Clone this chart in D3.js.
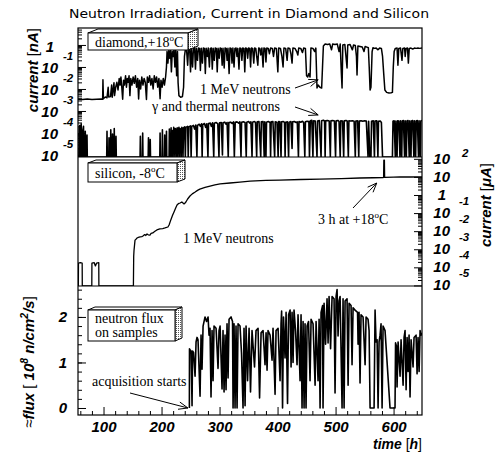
<!DOCTYPE html>
<html>
<head>
<meta charset="utf-8">
<script src="https://cdn.jsdelivr.net/npm/d3@7"></script>
<style>
  body { margin: 0; background: #fff; }
  text { fill: #000; }
</style>
</head>
<body>
<svg id="chart" width="499" height="452"></svg>
<script>
// ---- data ----
const timeTicks = [100, 200, 300, 400, 500, 600];
const diamondDecades = [0, -1, -2, -3, -4, -5];
const siliconDecades = [2, 1, 0, -1, -2, -3, -4, -5];
const fluxTicks = [0, 1, 2];

// diamond current, 1 MeV neutrons [nA]
const diamond = [
  [56,3.4e-3],[64,3.3e-3],[72,3.5e-3],[80,3.3e-3],[88,3.4e-3],[96,3.5e-3],[98.5,3.4e-3],[99,0.026],[99.8,3.6e-3],
  [103,4.3e-3],[106,4.0e-3],[108,0.012],[109,4.3e-3],[112,4.5e-3],[114,0.015],[115,4.2e-3],[118,0.019],[119,5e-3],
  [121,0.012],[123,0.02],[125,0.009],[127,0.03],[128.5,0.015],[130,0.035],[131.5,0.012],[133,3.4e-3],[134.5,0.025],
  [136,0.015],[138,0.04],[139.5,0.012],[141,0.03],[142.5,0.02],[144,0.04],[145.5,5e-3],[147,0.03],[149,0.015],
  [151,0.035],[153,0.018],[155,0.04],[157,0.012],[159,0.03],[160.5,3.5e-3],[162,0.025],[164,0.01],[166,0.035],
  [168,0.015],[170,0.03],[172,0.02],[174,3.3e-3],[175.5,0.035],[177.5,0.02],[179.5,0.04],[181.5,0.015],[183.5,0.03],
  [185.5,0.01],[187.5,0.04],[189.5,0.02],[191.5,0.035],[193.5,0.012],[195.5,0.03],[197.5,3.6e-3],[199,0.025],
  [201,0.012],[203,0.03],[205,0.015],[207,0.035],
  [208.5,0.1],[209.5,0.5],[211,0.15],[212.5,0.55],[214,0.25],[215.5,0.6],[217,0.06],[218.5,0.5],[220,0.3],
  [221.5,0.65],[223,0.1],[224.5,0.6],[226,0.04],[227.5,0.5],[228.5,0.02],[230,5e-3],[233,4.2e-3],[236,4.5e-3],
  [238,0.012],[239.5,0.3],[241,0.6],[243,0.7],[245,0.12],[246.5,0.65],[248.5,0.7],[250,0.06],[251.5,0.7],[253.5,0.1],
  [255,0.7],[257,0.72],[258.5,0.08],[260,0.7],[262,0.2],[263.5,0.72],[265.5,0.7],[267,0.07],[268.5,0.7],[270.5,0.15],
  [272,0.72],[274,0.7],[275.5,0.05],[277,0.7],[279,0.3],[280.5,0.72],[282.5,0.1],[284,0.7],[286,0.72],[287.5,0.08],
  [289,0.7],[291,0.2],[292.5,0.72],[294.5,0.7],[296,0.06],[297.5,0.7],[299.5,0.25],[301,0.72],[303,0.7],[304.5,0.12],
  [306,0.7],[308,0.09],[309.5,0.72],[311.5,0.7],[313,0.2],[314.5,0.7],[316.5,0.05],[318,0.72],[320,0.7],[321.5,0.15],
  [323,0.72],[325,0.1],[326.5,0.7],[328.5,0.72],[330,0.3],[331.5,0.7],[333.5,0.08],[335,0.72],[337,0.7],[338.5,0.2],
  [340,0.72],[342,0.7],[343.5,0.06],[345,0.72],[347,0.7],[348.5,0.25],[350,0.72],[352,0.7],[353.5,0.1],[355,0.72],
  [357,0.7],[359,0.15],[360.5,0.72],[362.5,0.7],[364,0.3],[366,0.12],[367.5,0.72],[369.5,0.7],[371,0.35],[373,0.72],
  [375,0.1],[376.5,0.72],[378.5,0.7],[380,0.17],[381.5,0.72],[384,0.7],[386,0.4],[388,0.72],[391,0.7],[393,0.3],
  [395,0.72],[398,0.7],[400.5,0.06],[402,0.72],[405,0.7],[407.5,0.3],[409.5,0.1],[411,0.72],[414,0.7],[416.5,0.2],
  [418,0.72],[421,0.7],[423,0.4],[425,0.15],[426.5,0.72],[430,0.7],[433,0.5],[435,0.35],[436.5,0.72],[440,0.7],
  [443,0.45],[445,0.72],[448,0.7],[450,0.04],[452,0.035],[454,0.05],[456,0.035],[457.5,0.72],[461,0.7],[464,0.5],
  [466,0.72],[468,0.011],[470,0.015],[473,0.012],[476,0.011],[477.5,0.1],[479,0.9],[482,1.1],[486,1.05],[490,1.1],
  [493,0.6],[495,1.1],[499,1.05],[503,1.1],[506,0.5],[508,1.1],[510,0.05],[511.2,0.011],[512.5,1.0],[516,1.05],
  [519.8,0.09],[521,1.0],[525,1.05],[529,0.6],[531,1.0],[534,0.95],[536,0.3],[537,0.043],[538.5,0.9],[542,0.85],
  [546,0.8],[549,0.5],[551,0.85],[554,0.8],[556.5,0.75],[558,0.1],[559.5,0.009],[561,0.012],[563,0.5],[564.5,0.75],
  [567,0.7],[570,0.72],[573,0.6],[576,0.72],[579,0.7],[581,0.3],[583,0.05],[585,0.009],[588,0.007],[592,0.0066],
  [596,0.0068],[598,0.007],[599.5,0.1],[601,0.5],[603,0.7],[606,0.72],[607.5,0.12],[609,0.7],[612,0.72],[614.5,0.2],
  [616,0.7],[619,0.72],[620,0.3],[621.5,0.7],[624,0.72],[625.5,0.15],[627,0.7],[630,0.72],[633,0.65],[636,0.72],
  [639,0.7],[642,0.72],[645,0.7],[649,0.72]
];

// diamond current, gamma and thermal neutrons [nA]  (1e-6 = below scale)
const gamma = [
  [56,1e-6],[57.5,1e-6],[58,1.7e-4],[59,2.2e-4],[59.5,1e-6],[61,1e-6],[61.5,2.6e-4],[62.5,1e-6],[64,1e-6],[64.5,1.4e-4],
  [65.5,2e-4],[66,1e-6],[68,1e-6],[68.5,1.2e-4],[69.5,1e-6],[71,1e-6],[71.5,8e-5],[72,1e-6],
  [105.5,1e-6],[106,1.2e-4],[106.5,1e-6],[109,1e-6],[109.5,6e-5],[110,1e-6],[112,1e-6],[112.5,1.4e-4],[113,1e-6],
  [115,1e-6],[115.5,9e-5],[116,1e-6],[118,1e-6],[118.5,1.6e-4],[119,1e-6],[121,1e-6],[121.5,7e-5],[122,1e-6],
  [163,1e-6],[163.5,7e-5],[164,1e-6],[167,1e-6],[167.5,1e-4],[168,1e-6],[177,1e-6],[177.5,6e-5],[178,1e-6],
  [180,1e-6],[180.5,5e-5],[181,1e-6],[197,1e-6],[197.5,1e-4],[198,1e-6],[201,1e-6],[201.5,1.4e-4],[202,1e-6],
  [205,1e-6],[205.5,8e-5],[206,1e-6],[208,1e-6],[208.5,1.2e-4],[209,1e-6],
  [213,1e-6],[213.5,1.5e-4],[214.5,1e-6],[216,1e-6],[216.5,1.7e-4],[217.5,1e-6],[219,1.3e-4],[220,1e-6],[221,1.8e-4],
  [222,1.4e-4],[223,1e-6],[224,1.6e-4],[225.5,1.2e-4],[226,1e-6],[227,1.7e-4],[228,1e-6],[229,1.4e-4],[230,1.8e-4],
  [231,1e-6],[232,1.6e-4],[233.5,1.4e-4],[234,1e-6],[235,1.8e-4],[236.5,1.5e-4],[237,1e-6],[238,1.7e-4],[240,1.9e-4],
  [241,1e-6],[242,1.8e-4],[245,2e-4],[246,1e-6],[247,1.9e-4],[250,2.1e-4],[251,1e-6],[252,2e-4],[255,2.2e-4],
  [257,1.5e-4],[259,2.3e-4],[261,1e-6],[262,2.2e-4],[265,2.5e-4],[267,2e-4],[269,2.6e-4],[270,1e-6],[271,2.4e-4],
  [274,2.7e-4],[276,1.8e-4],[278,2.6e-4],[280,1e-6],[281,2.7e-4],[284,2.8e-4],[286,2e-4],[288,2.9e-4],[290,1e-6],
  [291,2.8e-4],[294,3e-4],[297,2.6e-4],[299,1e-6],[300,2.9e-4],[303,3e-4],[305,1e-5],[306,2.9e-4],[309,3.1e-4],
  [311,2.5e-4],[313,3e-4],[315,1e-6],[316,3e-4],[319,3.1e-4],[322,2.7e-4],[324,3.2e-4],[325.5,1e-6],[327,3.1e-4],
  [330,3.2e-4],[333,2.8e-4],[335,3.2e-4],[337,1e-6],[338,3.1e-4],[341,3.2e-4],[344,3e-4],[346,1e-6],[347,3.1e-4],
  [350,3.3e-4],[352,2.8e-4],[354,3.2e-4],[356,1e-6],[357,3.1e-4],[360,3.3e-4],[362,3e-4],[364,1e-6],[365,3.2e-4],
  [368,3.3e-4],[371,1e-6],[372,3.2e-4],[375,3.3e-4],[377,1e-6],[378,3.2e-4],[380,1e-6],[381,3.1e-4],[384,3.3e-4],
  [387,3e-4],[388,1e-6],[389,3.2e-4],[392,3.3e-4],[395,1e-6],[396,3.2e-4],[399,3.1e-4],[401,1e-6],[402,3.3e-4],
  [404,3.2e-4],[406,1e-6],[407,3.2e-4],[410,3.3e-4],[412,3e-4],[413,1e-6],[414,3.1e-4],[417,3.2e-4],[419,1e-6],
  [420,3.1e-4],[423,3.3e-4],[425,2e-5],[426,3.2e-4],[429,3.3e-4],[432,3e-4],[434,3.2e-4],[436,1e-6],[437,3.3e-4],
  [440,3.1e-4],[443,3.4e-4],[445,3e-4],[447,1e-6],[448,3.2e-4],[451,3.4e-4],[454,3.3e-4],[455,1e-6],[456.5,3.6e-4],
  [459,3.8e-4],[461,1e-6],[462,3.6e-4],[465,3.5e-4],[468,1e-6],[469,3.5e-4],[472,3.7e-4],[475,1e-6],[476,3.6e-4],
  [479,3.8e-4],[481,3.5e-4],[482,1e-6],[483,3.6e-4],[486,3.7e-4],[489,3.5e-4],[491,1e-6],[492,3.6e-4],[495,3.7e-4],
  [498,3.5e-4],[500,1e-6],[501,3.6e-4],[504,3.7e-4],[506,3.4e-4],[508,1e-6],[509,3.6e-4],[512,3.5e-4],[514,1e-6],
  [515,3.6e-4],[518,3.7e-4],[520,3.5e-4],[522,1e-6],[523,3.6e-4],[526,3.5e-4],[529,3.6e-4],[532,3.4e-4],[534,1e-6],
  [535,3.5e-4],[538,3.6e-4],[540,1e-6],[541,3.5e-4],[544,3.6e-4],[547,3.4e-4],[550,3.6e-4],[553,3.5e-4],[556,1e-6],
  [557,3.4e-4],[559,1e-6],[561,1e-6],[562,3.4e-4],[565,3.6e-4],[567,1e-6],[568,3.5e-4],[571,3.6e-4],[573,1e-6],
  [574,3.4e-4],[577,3.5e-4],[579,3e-4],[581,1e-6],[598,1e-6],[599,3.4e-4],[601,3.6e-4],[603,1e-6],[604,3.5e-4],
  [606,1e-6],[607,3.6e-4],[609,3.5e-4],[611,1e-6],[612,3.6e-4],[614,1e-6],[615,3.5e-4],[617,3.7e-4],[619,1e-6],
  [620,3.6e-4],[622,1e-6],[623,3.5e-4],[625,3.7e-4],[627,1e-6],[628,3.6e-4],[630,1e-6],[631,3.5e-4],[633,3.7e-4],
  [635,1e-6],[636,3.6e-4],[638,1e-6],[639,3.5e-4],[641,3.7e-4],[643,1e-6],[644,3.6e-4],[646,1e-6],[647,3.5e-4],
  [649,3.7e-4]
];

// silicon current [uA]  (1e-7 = below scale)
const silicon = [
  [56,1e-7],[56.6,1e-7],[56.8,1.7e-4],[60,1.8e-4],[63.2,1.7e-4],[63.4,1e-7],[79.8,1e-7],[80,1.7e-4],[84,1.8e-4],
  [86,1.2e-4],[88,1.7e-4],[91.8,1.8e-4],[92,1e-7],[151.5,1e-7],[152,4e-4],[152.6,9e-4],[154.3,3.2e-3],[156,3.6e-3],
  [157.8,4.2e-3],[160,4.5e-3],[163,4.8e-3],[166,5e-3],[168,5.4e-3],[171,6.5e-3],[173,5.8e-3],[175,7e-3],[177,6.3e-3],
  [180,6.1e-3],[182,7.5e-3],[185,8e-3],[188,9.5e-3],[192,0.0117],[197,0.0133],[202,0.014],[206,0.015],[211,0.017],
  [213,0.022],[216,0.042],[219,0.075],[221.5,0.115],[224,0.18],[226.7,0.28],[229,0.33],[232,0.36],[235,0.41],
  [237,0.36],[238.8,0.32],[240.5,0.36],[242,0.41],[245,0.6],[249,0.88],[253,1.15],[258,1.46],[262,1.8],[266,2.1],
  [275,2.6],[283.6,3.1],[292,3.6],[301,4.1],[318,4.6],[335,5.2],[352.6,5.9],[380,6.4],[404,6.7],[440,7.2],[473,7.6],
  [510,8.1],[542,8.7],[565,9.0],[582,9.2],[582.8,9.3],[583.2,85],[584.2,85],[584.6,9.5],[600,9.7],[611,9.9],
  [630,9.9],[649,10]
];

// neutron flux [1e8 n/cm2/s]
const flux = [
  [248,0],[248.2,1.3],[249.1,1.28],[250.9,1.25],[252.6,0.05],[253.5,1.25],[255.2,1.22],[257.8,0.7],[259.5,1.45],
  [261.2,1.55],[262.9,1.5],[266.4,0.26],[268.1,1.6],[269.8,0.85],[271.6,1.8],[275,2.0],[277.6,1.9],[280.2,2.0],
  [281.9,1.6],[283.6,1.75],[285.3,0.24],[287.1,1.7],[288.8,0.6],[290.5,1.8],[294,1.75],[297.4,0.87],[299.1,1.7],
  [300.9,1.8],[304.3,0.42],[306,1.7],[307.8,0.35],[309.5,1.6],[311.2,0.4],[312.9,1.85],[314.7,0.66],[316.4,1.95],
  [319.8,2.0],[322.4,1.9],[323.3,0],[325,1.85],[326.7,0],[328.4,1.8],[330.2,0],[331.9,1.85],[335.3,1.8],[337.9,1.2],
  [340.5,0],[342.2,1.75],[344,0.05],[345.7,1.8],[348.3,0.6],[350.9,1.75],[353.4,0.35],[356,1.7],[360.3,0.9],
  [362.9,1.7],[366.4,1.75],[369,0.22],[371.6,1.65],[375,1.7],[378.4,0.95],[380.2,1.65],[381.9,0.83],[383.6,1.7],
  [387.1,1.6],[390.5,1.05],[392.2,1.75],[395.7,0.3],[397.4,1.7],[400.9,1.75],[404.3,0.6],[406,1.85],[407,2.13],
  [408.6,0],[410.3,2.0],[412.9,1.1],[414.7,2.1],[417.2,0.1],[419,2.05],[421.6,2.15],[423.3,0.9],[425,2.1],
  [426.7,1.0],[428.4,2.15],[431,1.7],[433.6,0.95],[435.3,2.05],[438.8,0.6],[440.5,2.05],[442.2,0],[444,1.9],
  [445.7,0],[447.4,1.85],[449.1,0],[450.9,1.8],[453.4,1.9],[456,0.6],[457.8,1.95],[461.2,1.85],[464.7,0.5],
  [466.4,1.9],[469.8,0.6],[471.6,1.95],[473.3,0],[475,2.1],[477.6,2.25],[478.4,0],[480.2,2.3],[482.8,1.4],
  [485.3,2.4],[487.1,1.43],[488.8,2.45],[491.4,1.3],[494,2.45],[497.4,2.4],[499.1,0.33],[500.9,2.45],[502.6,2.6],
  [504.3,1.58],[506,2.35],[507.8,2.45],[511.2,0],[512.9,2.4],[514.7,0],[516.4,2.35],[519.8,2.4],[521.6,0.5],
  [523.3,2.3],[526.7,2.25],[528.4,0.95],[530.2,2.2],[533.6,2.15],[537.9,2.1],[538.8,1.4],[540.5,2.1],[542.2,0.55],
  [543.9,2.05],[547.4,2.0],[550.9,0.95],[552.6,2.0],[556,1.95],[557.8,1.7],[559.5,0],[566.4,0],[568.1,2.15],
  [569.8,1.45],[571.6,1.5],[573.3,0],[575,1.45],[576.7,1.6],[578.4,1.85],[580.2,0],[581.9,1.8],[585.3,1.7],
  [593.9,0],[602.5,0],[603.4,1.43],[605.2,1.35],[606,0.46],[607.8,1.45],[611.2,0.7],[612.9,1.5],[616.4,0.5],
  [618.1,1.55],[619.8,1.7],[621.6,0.4],[623.3,1.55],[625,0.8],[626.7,1.6],[628.4,0.24],[630.2,1.5],[633.6,0.9],
  [635.3,1.55],[638.8,1.6],[640.5,0.75],[642.2,1.55],[644,0.8],[645.7,1.7],[647.4,1.6],[649,1.65]
];

// ---- layout ----
const left = 78, right = 422;
const topPanel = [28, 157], midPanel = [157, 286], botPanel = [286, 415];
const tickFont = '"Liberation Sans", Arial, sans-serif';
const serif = '"Liberation Serif", "Times New Roman", serif';

const svg = d3.select('#chart');

const x = d3.scaleLinear().domain([56, 649]).range([left, right]);
const yDia = d3.scaleLog().domain([8.1e-6, 5.9]).range([topPanel[1], topPanel[0]]).clamp(true);
const ySil = d3.scaleLog().domain([9.3e-6, 126]).range([midPanel[1], midPanel[0]]).clamp(true);
const yFlux = d3.scaleLinear().domain([-0.154, 2.68]).range([botPanel[1], botPanel[0]]);

// pattern for 3d box sides
const defs = svg.append('defs');
const pat = defs.append('pattern').attr('id', 'dots')
  .attr('width', 2).attr('height', 2).attr('patternUnits', 'userSpaceOnUse');
pat.append('rect').attr('width', 2).attr('height', 2).attr('fill', '#fff');
pat.append('rect').attr('width', 1).attr('height', 1).attr('fill', '#555');

[['clipTop', topPanel], ['clipMid', midPanel], ['clipBot', botPanel]].forEach(([id, p]) => {
  defs.append('clipPath').attr('id', id)
    .append('rect').attr('x', left).attr('y', p[0]).attr('width', right - left).attr('height', p[1] - p[0]);
});

// ---- title ----
svg.append('text')
  .attr('x', 249).attr('y', 18)
  .attr('text-anchor', 'middle')
  .attr('font-family', '"DejaVu Sans", sans-serif')
  .attr('font-size', 12)
  .attr('textLength', 360).attr('lengthAdjust', 'spacingAndGlyphs')
  .text('Neutron Irradiation, Current in Diamond and Silicon');

// ---- data lines ----
const lineDia = d3.line().x(d => x(d[0])).y(d => yDia(d[1]));
const lineSil = d3.line().x(d => x(d[0])).y(d => ySil(d[1]));
const lineFlux = d3.line().x(d => x(d[0])).y(d => yFlux(d[1]));

const drawSeries = (data, line, clip, w) => {
  svg.append('path')
    .datum(data)
    .attr('clip-path', `url(#${clip})`)
    .attr('fill', 'none')
    .attr('stroke', '#000')
    .attr('stroke-width', w)
    .attr('stroke-linejoin', 'round')
    .attr('d', line);
};
drawSeries(diamond, lineDia, 'clipTop', 1.5);
drawSeries(gamma, lineDia, 'clipTop', 1.6);
drawSeries(silicon, lineSil, 'clipMid', 1.3);
drawSeries(flux, lineFlux, 'clipBot', 1.6);

// ---- frame ----
svg.append('rect')
  .attr('x', left).attr('y', topPanel[0])
  .attr('width', right - left).attr('height', botPanel[1] - topPanel[0])
  .attr('fill', 'none').attr('stroke', '#000').attr('stroke-width', 1.2);
[midPanel[0], botPanel[0]].forEach(yy => {
  svg.append('line').attr('x1', left).attr('x2', right).attr('y1', yy).attr('y2', yy)
    .attr('stroke', '#000').attr('stroke-width', 1.2);
});

// ---- axes ----
const minorLog = scale => {
  const [lo, hi] = scale.domain();
  const out = [];
  for (let k = -7; k <= 3; k++) {
    for (let m = 2; m <= 9; m++) {
      const v = m * Math.pow(10, k);
      if (v > lo && v < hi) out.push(v);
    }
  }
  return out;
};

const styleAxis = g => {
  g.select('.domain').remove();
  g.selectAll('.tick line').attr('stroke', '#000').attr('stroke-width', 1);
  g.selectAll('.tick text').remove();
};

// top panel, left log axis
svg.append('g').attr('transform', `translate(${left},0)`)
  .call(d3.axisRight(yDia).tickValues(diamondDecades.map(k => Math.pow(10, k))).tickSize(8)).call(styleAxis);
svg.append('g').attr('transform', `translate(${left},0)`)
  .call(d3.axisRight(yDia).tickValues(minorLog(yDia)).tickSize(4)).call(styleAxis);

// middle panel, right log axis
svg.append('g').attr('transform', `translate(${right},0)`)
  .call(d3.axisLeft(ySil).tickValues(siliconDecades.map(k => Math.pow(10, k))).tickSize(8)).call(styleAxis);
svg.append('g').attr('transform', `translate(${right},0)`)
  .call(d3.axisLeft(ySil).tickValues(minorLog(ySil)).tickSize(4)).call(styleAxis);

// bottom panel, flux axis
svg.append('g').attr('transform', `translate(${left},0)`)
  .call(d3.axisRight(yFlux).tickValues(fluxTicks).tickSize(8)).call(styleAxis);
svg.append('g').attr('transform', `translate(${left},0)`)
  .call(d3.axisRight(yFlux).tickValues(d3.range(0.2, 2.61, 0.2)).tickSize(4)).call(styleAxis);
const fluxLab = svg.append('g').attr('transform', `translate(${left},0)`)
  .call(d3.axisLeft(yFlux).tickValues(fluxTicks).tickSize(0).tickPadding(11).tickFormat(d3.format('d')));
fluxLab.select('.domain').remove();
fluxLab.selectAll('text')
  .attr('font-family', tickFont).attr('font-size', 15).attr('font-weight', 'bold').attr('font-style', 'italic');

// time axis
svg.append('g').attr('transform', `translate(0,${botPanel[1]})`)
  .call(d3.axisTop(x).tickValues(timeTicks).tickSize(8)).call(styleAxis);
svg.append('g').attr('transform', `translate(0,${botPanel[1]})`)
  .call(d3.axisTop(x).tickValues(d3.range(60, 649, 20).filter(t => t % 100 !== 0)).tickSize(4)).call(styleAxis);
const timeLab = svg.append('g').attr('transform', `translate(0,${botPanel[1]})`)
  .call(d3.axisBottom(x).tickValues(timeTicks).tickSize(0).tickPadding(6).tickFormat(d3.format('d')));
timeLab.select('.domain').remove();
timeLab.selectAll('text')
  .attr('font-family', tickFont).attr('font-size', 15).attr('font-weight', 'bold').attr('font-style', 'italic');

// log labels: "10" with raised exponent, "1" for the unit decade
const logLabels = (scale, decades, o) => {
  const g = svg.append('g')
    .attr('font-family', tickFont).attr('font-weight', 'bold').attr('font-style', 'italic');
  decades.forEach(k => {
    const yy = scale(Math.pow(10, k));
    if (k === 0) {
      g.append('text').attr('x', o.oneX).attr('y', yy + o.oneDy)
        .attr('text-anchor', 'end').attr('font-size', 15).text('1');
      return;
    }
    g.append('text').attr('x', o.baseX).attr('y', yy + o.baseDy)
      .attr('text-anchor', 'end').attr('font-size', 15).text('10');
    if (k !== 1) {
      g.append('text').attr('x', k > 0 ? o.posExpX : o.expX).attr('y', yy + (k > 0 ? o.posExpDy : o.expDy))
        .attr('font-size', 11.5).text(String(k));
    }
  });
};
logLabels(yDia, diamondDecades, { baseX: 58, baseDy: 6, oneX: 54, oneDy: 7, expX: 63, expDy: -7 });
logLabels(ySil, siliconDecades, { baseX: 450, baseDy: 5, oneX: 446, oneDy: 5, expX: 459, expDy: -8, posExpX: 462, posExpDy: -2 });

// ---- axis titles ----
const richText = (sel, parts) => {
  parts.forEach(p => {
    const t = sel.append('tspan').text(p.t);
    if (p.plain) t.attr('font-weight', 'normal').attr('font-style', 'normal');
    if (p.sup) t.attr('font-size', '0.7em').attr('dy', p.dy);
    if (p.back) t.attr('dy', p.back);
  });
};
const axisTitle = (tx, ty, anchor, parts, size) => {
  const t = svg.append('text')
    .attr('transform', `translate(${tx},${ty}) rotate(-90)`)
    .attr('text-anchor', anchor)
    .attr('font-family', tickFont).attr('font-size', size)
    .attr('font-weight', 'bold').attr('font-style', 'italic');
  richText(t, parts);
};
axisTitle(38, 28, 'end', [{ t: 'current ' }, { t: '[', plain: true }, { t: 'nA' }, { t: ']', plain: true }], 15);
axisTitle(491, 205, 'middle', [{ t: 'current ' }, { t: '[', plain: true }, { t: 'μA' }, { t: ']', plain: true }], 15);
axisTitle(34, 362, 'middle', [
  { t: '≈', plain: true }, { t: 'flux ' }, { t: '[ ', plain: true }, { t: '10' },
  { t: '8', sup: true, dy: -6 }, { t: ' n/cm', back: 6 }, { t: '2', sup: true, dy: -6 },
  { t: '/s', back: 6 }, { t: ']', plain: true }
], 15);

const xt = svg.append('text')
  .attr('x', right).attr('y', 449).attr('text-anchor', 'end')
  .attr('font-family', tickFont).attr('font-size', 14)
  .attr('font-weight', 'bold').attr('font-style', 'italic');
richText(xt, [{ t: 'time ' }, { t: '[', plain: true }, { t: 'h' }, { t: ']', plain: true }]);

// ---- 3d label boxes ----
const box3d = (bx, by, w, h, dx, dy, lines) => {
  const g = svg.append('g').attr('stroke', '#000').attr('stroke-width', 1);
  g.append('path').attr('fill', '#fff')
    .attr('d', `M${bx},${by}L${bx + dx},${by - dy}L${bx + w + dx},${by - dy}L${bx + w},${by}Z`);
  g.append('path').attr('fill', 'url(#dots)')
    .attr('d', `M${bx + w},${by}L${bx + w + dx},${by - dy}L${bx + w + dx},${by + h - dy}L${bx + w},${by + h}Z`);
  g.append('rect').attr('x', bx).attr('y', by).attr('width', w).attr('height', h).attr('fill', '#fff');
  lines.forEach(ln => {
    const t = svg.append('text').attr('x', bx + 7).attr('y', by + ln.dy)
      .attr('font-family', serif).attr('font-size', 14);
    if (ln.deg) {
      t.append('tspan').text(ln.t);
      t.append('tspan').attr('font-size', 9).attr('dy', -6).text('o');
      t.append('tspan').attr('dy', 6).text('C');
    } else {
      t.text(ln.t);
    }
  });
};
box3d(88, 33, 100, 17, 10, 4, [{ t: 'diamond,+18', deg: true, dy: 14 }]);
box3d(88, 163, 89, 19, 8, 3, [{ t: 'silicon, -8', deg: true, dy: 15 }]);
box3d(88, 310, 87, 31, 7, 3, [{ t: 'neutron flux', dy: 13 }, { t: 'on samples', dy: 27 }]);

// ---- annotations ----
const note = (tx, ty, str, deg) => {
  const t = svg.append('text').attr('x', tx).attr('y', ty)
    .attr('font-family', serif).attr('font-size', 14);
  if (deg) {
    t.append('tspan').text(str);
    t.append('tspan').attr('font-size', 9).attr('dy', -6).text('o');
    t.append('tspan').attr('dy', 6).text('C');
  } else {
    t.text(str);
  }
};
const arrow = (x1, y1, x2, y2) => {
  const a = Math.atan2(y2 - y1, x2 - x1);
  const L = 10, s = 0.38;
  const g = svg.append('g').attr('stroke', '#000').attr('stroke-width', 1).attr('fill', 'none');
  g.append('line').attr('x1', x1).attr('y1', y1).attr('x2', x2).attr('y2', y2);
  g.append('path').attr('d',
    `M${x2 - L * Math.cos(a - s)},${y2 - L * Math.sin(a - s)}L${x2},${y2}L${x2 - L * Math.cos(a + s)},${y2 - L * Math.sin(a + s)}`);
};

note(200, 94, '1 MeV neutrons');
arrow(295, 88, x(470), yDia(0.026));
note(152, 111, 'γ and thermal neutrons');
arrow(295, 107, x(470), yDia(6.6e-4));
note(183, 243, '1 MeV neutrons');
note(318, 224, '3 h at +18', true);
arrow(353, 208, x(571), ySil(4.6));
note(92, 386, 'acquisition starts');
arrow(130, 393, x(245.5), yFlux(0));
</script>
</body>
</html>
